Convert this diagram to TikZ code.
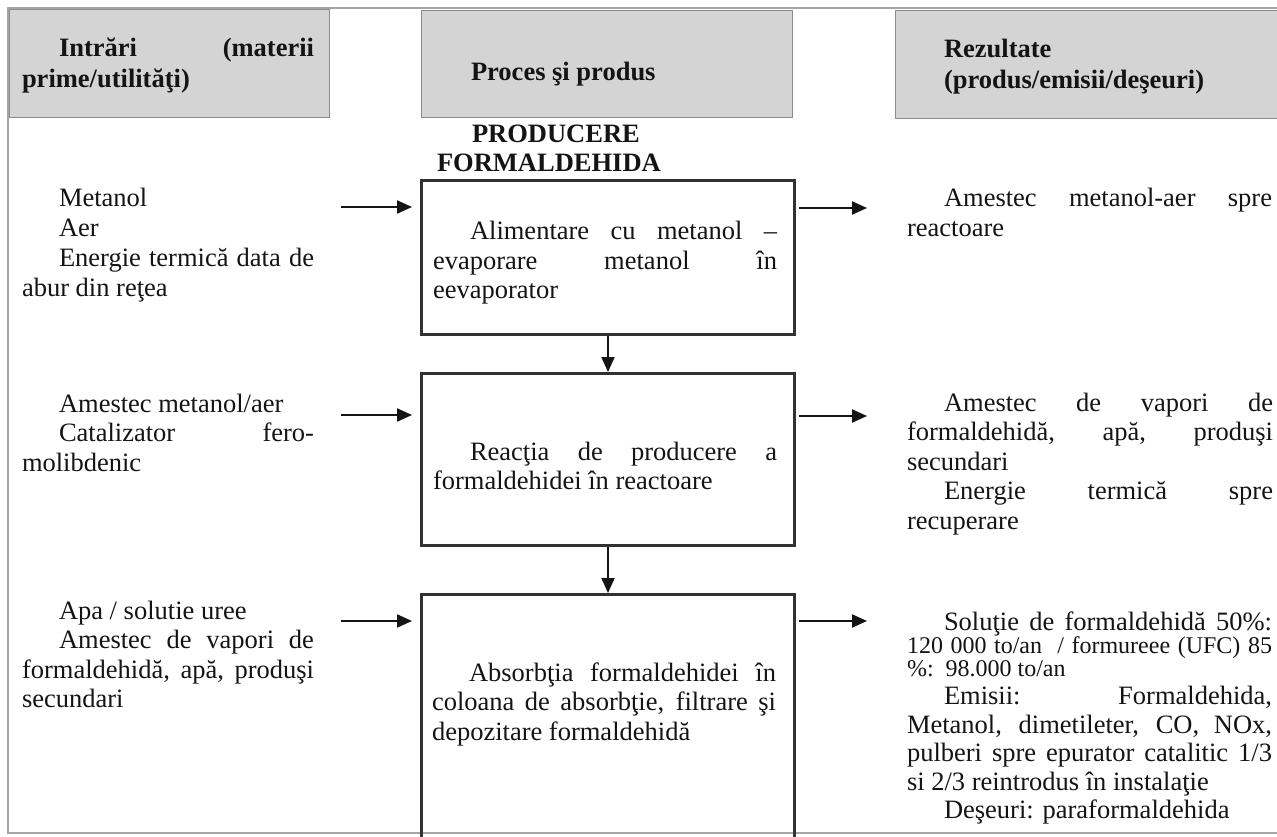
\documentclass[tikz,border=0pt]{standalone}
\usepackage{fontspec}
\setmainfont{Liberation Serif}
\usetikzlibrary{arrows.meta}
\definecolor{ink}{RGB}{20,20,20}
\definecolor{hdrfill}{RGB}{212,212,212}
\definecolor{hdrline}{RGB}{140,140,140}
\definecolor{boxline}{RGB}{50,50,50}
\definecolor{frameline}{RGB}{165,165,165}
\newcommand\jln[1]{\hbox to\hsize{#1}}
\newcommand\rln[1]{\hbox{#1}}
\newcommand\ind{\hskip 37pt\relax}
\tikzset{
  txt/.style={anchor=base west, inner sep=0pt, outer sep=0pt, text=ink,
    font=\fontsize{26.5}{29.5}\selectfont},
  boldtxt/.style={txt, font=\fontsize{26.5}{30.5}\selectfont\bfseries},
  hdr/.style={draw=hdrline, fill=hdrfill, line width=1.2pt, inner sep=0pt, anchor=north west},
  proc/.style={draw=boxline, line width=3pt, inner sep=0pt, anchor=north west},
  arr/.style={draw=ink, line width=2pt, -{Triangle[length=15pt,width=13pt]}},
}
\begin{document}
\begin{tikzpicture}[x=1pt,y=-1pt]
\useasboundingbox (0,0) rectangle (1277,837);
% outer frame
\draw[frameline, line width=1.5pt] (1280,8) -- (8,8) -- (8,833) -- (1280,833);
% headers
\node[hdr, minimum width=320pt, minimum height=108pt] (hin) at (9,9) {};
\node[hdr, minimum width=371pt, minimum height=107pt] (hproc) at (421,10) {};
\node[hdr, minimum width=392pt, minimum height=108pt] (hout) at (895,10) {};
\node[boldtxt] (thin) at (22,57) {\vtop{\hsize=292pt \jln{\ind Intrări (materii}\rln{prime/utilităţi)}}};
\node[boldtxt] (thproc) at (471,81) {Proces şi produs};
\node[boldtxt] (thout) at (907,58) {\vtop{\hsize=364pt \rln{\ind Rezultate}\rln{\ind (produs/emisii/deşeuri)}}};
\node[boldtxt, font=\fontsize{26.5}{29}\selectfont\bfseries] (ttitle) at (437,143) {\vtop{\hsize=344pt \rln{\hskip 35pt PRODUCERE}\rln{FORMALDEHIDA}}};
% process boxes
\node[proc, minimum width=373pt, minimum height=154pt] (b1) at (420,179) {};
\node[proc, minimum width=373pt, minimum height=172pt] (b2) at (420,372) {};
\node[proc, minimum width=373pt, minimum height=262pt] (b3) at (420,593) {};
\draw[arr] (b1.south) -- (b2.north);
\draw[arr] (b2.south) -- (b3.north);
% input arrows
\coordinate (i1) at (341,207);
\coordinate (i2) at (341,415);
\coordinate (i3) at (341,621);
\draw[arr, shorten >=8pt] (i1) -- (i1 -| b1.west);
\draw[arr, shorten >=8pt] (i2) -- (i2 -| b2.west);
\draw[arr, shorten >=8pt] (i3) -- (i3 -| b3.west);
% output arrows
\coordinate (o1) at (867,208);
\coordinate (o2) at (867,416);
\coordinate (o3) at (867,621);
\draw[arr, shorten <=3pt] (o1 -| b1.east) -- (o1);
\draw[arr, shorten <=3pt] (o2 -| b2.east) -- (o2);
\draw[arr, shorten <=3pt] (o3 -| b3.east) -- (o3);
% left column
\node[txt, font=\fontsize{26.5}{30}\selectfont] (l1) at (22,207) {\vtop{\hsize=292pt
  \rln{\ind Metanol}\rln{\ind Aer}\jln{\ind Energie termică data de}\rln{abur din reţea}}};
\node[txt] (l2) at (22,412) {\vtop{\hsize=292pt
  \rln{\ind Amestec metanol/aer}\jln{\ind Catalizator fero-}\rln{molibdenic}}};
\node[txt] (l3) at (22,619) {\vtop{\hsize=292pt
  \rln{\ind Apa / solutie uree}\jln{\ind Amestec de vapori de}\jln{formaldehidă, apă, produşi}\rln{secundari}}};
% middle column
\node[txt] (m1) at (433,240) {\vtop{\hsize=344pt
  \jln{\ind Alimentare cu metanol –}\jln{evaporare metanol în}\rln{eevaporator}}};
\node[txt] (m2) at (433,460) {\vtop{\hsize=344pt
  \jln{\ind Reacţia de producere a}\rln{formaldehidei în reactoare}}};
\node[txt] (m3) at (432,681) {\vtop{\hsize=344pt
  \jln{\ind Absorbţia formaldehidei în}\jln{coloana de absorbţie, filtrare şi}\rln{depozitare formaldehidă}}};
% right column
\node[txt] (r1) at (907,207) {\vtop{\hsize=365pt
  \jln{\ind Amestec metanol-aer spre}\rln{reactoare}}};
\node[txt] (r2) at (907,411) {\vtop{\hsize=366pt
  \jln{\ind Amestec de vapori de}\jln{formaldehidă, apă, produşi}\rln{secundari}\jln{\ind Energie termică spre}\rln{recuperare}}};
\node[txt, font=\fontsize{26.5}{28.5}\selectfont] (r3) at (907,630) {\vtop{\hsize=365pt
  \jln{\ind Soluţie de formaldehidă 50\%:}
  {\fontsize{24}{23}\selectfont\jln{120 000 to/an\ \ / formureee (UFC) 85}\rln{\%:\ \ 98.000 to/an}}
  \jln{\ind Emisii: Formaldehida,}\jln{Metanol, dimetileter, CO, NOx,}\jln{pulberi spre epurator catalitic 1/3}\rln{si 2/3 reintrodus în instalaţie}\rln{\ind Deşeuri: paraformaldehida}}};
\end{tikzpicture}
\end{document}
